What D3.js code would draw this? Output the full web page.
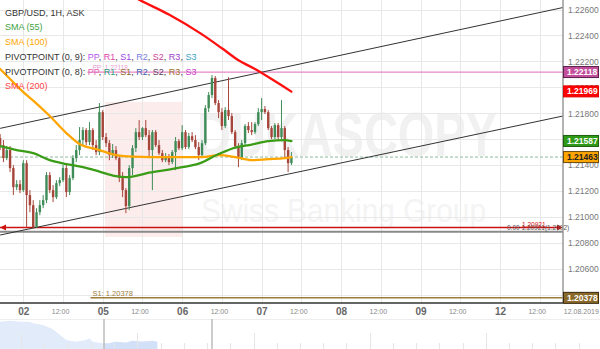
<!DOCTYPE html>
<html><head><meta charset="utf-8">
<script src="https://cdn.jsdelivr.net/npm/d3@7"></script>
<style>html,body{margin:0;padding:0;background:#fff;overflow:hidden}svg{display:block;font-family:"Liberation Sans",Arial,sans-serif}</style>
</head><body><svg id="c" width="600" height="349"></svg>
<script>
// ---------- DATA ----------
const barStart = -7; // first hourly bar, relative to 02 00:00
const open  = [1.21609,1.21555,1.21455,1.21517,1.21378,1.21231,1.21254,1.21208,1.21416,1.21170,1.21092,1.20923,1.21038,1.21092,1.21131,1.21324,1.21208,1.21154,1.21262,1.21285,1.21378,1.21193,1.21301,1.21455,1.21517,1.21594,1.21671,1.21578,1.21671,1.21555,1.21501,1.21809,1.21617,1.21570,1.21478,1.21517,1.21455,1.21301,1.21208,1.21085,1.21378,1.21532,1.21655,1.21617,1.21686,1.21632,1.21517,1.21655,1.21555,1.21493,1.21439,1.21470,1.21424,1.21501,1.21586,1.21532,1.21655,1.21540,1.21624,1.21594,1.21540,1.21478,1.21570,1.21840,1.21941,1.22072,1.21879,1.21809,1.21702,1.21825,1.21779,1.21655,1.21547,1.21455,1.21570,1.21702,1.21671,1.21655,1.21717,1.21809,1.21833,1.21809,1.21686,1.21617,1.21709,1.21617,1.21686,1.21517,1.21416];
const high  = [1.21640,1.21594,1.21547,1.21547,1.21401,1.21285,1.21285,1.21439,1.21439,1.21208,1.21131,1.21069,1.21131,1.21170,1.21347,1.21347,1.21247,1.21285,1.21308,1.21401,1.21401,1.21324,1.21478,1.21555,1.21694,1.21694,1.21686,1.21732,1.21686,1.21594,1.21879,1.21825,1.21648,1.21594,1.21563,1.21547,1.21478,1.21347,1.21224,1.21401,1.21555,1.21686,1.21748,1.21694,1.21748,1.21671,1.21671,1.21671,1.21594,1.21517,1.21493,1.21486,1.21517,1.21617,1.21601,1.21709,1.21671,1.21648,1.21655,1.21632,1.21578,1.21594,1.21863,1.21964,1.22095,1.22087,1.21902,1.21840,1.21848,1.22079,1.21802,1.21671,1.21570,1.21594,1.21717,1.21732,1.21732,1.21732,1.21840,1.21917,1.21856,1.21825,1.21702,1.21725,1.21725,1.21902,1.21702,1.21540,1.21501];
const low   = [1.21517,1.21424,1.21439,1.21347,1.21170,1.21208,1.21185,1.21193,1.20923,1.21038,1.20915,1.20915,1.21015,1.21069,1.21108,1.21185,1.21116,1.21139,1.21239,1.21270,1.21154,1.21170,1.21285,1.21424,1.21478,1.21555,1.21555,1.21555,1.21517,1.21478,1.21478,1.21594,1.21540,1.21439,1.21455,1.21439,1.21270,1.21154,1.21031,1.21054,1.21324,1.21501,1.21594,1.21594,1.21617,1.21463,1.21208,1.21540,1.21478,1.21424,1.21424,1.21401,1.21409,1.21362,1.21517,1.21517,1.21524,1.21524,1.21578,1.21524,1.21439,1.21455,1.21555,1.21809,1.21917,1.21863,1.21763,1.21671,1.21686,1.21748,1.21640,1.21532,1.21385,1.21439,1.21555,1.21648,1.21632,1.21640,1.21702,1.21748,1.21794,1.21671,1.21601,1.21601,1.21594,1.21601,1.21455,1.21347,1.21401];
const close = [1.21555,1.21455,1.21517,1.21378,1.21231,1.21254,1.21208,1.21416,1.21170,1.21092,1.20923,1.21038,1.21092,1.21131,1.21324,1.21208,1.21154,1.21262,1.21285,1.21378,1.21193,1.21301,1.21455,1.21517,1.21594,1.21671,1.21578,1.21671,1.21555,1.21501,1.21809,1.21617,1.21570,1.21478,1.21517,1.21455,1.21301,1.21208,1.21085,1.21378,1.21532,1.21655,1.21617,1.21686,1.21632,1.21517,1.21655,1.21555,1.21493,1.21439,1.21470,1.21424,1.21501,1.21586,1.21532,1.21655,1.21540,1.21624,1.21594,1.21540,1.21478,1.21570,1.21840,1.21941,1.22072,1.21879,1.21809,1.21702,1.21825,1.21779,1.21655,1.21547,1.21455,1.21570,1.21702,1.21671,1.21655,1.21717,1.21809,1.21833,1.21809,1.21686,1.21617,1.21709,1.21617,1.21686,1.21517,1.21416,1.21463];

const sma55Bars  = [-7,-2,3,8,13,18,23,28,31,35,38,44,48,53,59,64,69,74,79,81];
const sma55      = [1.21547,1.21517,1.21493,1.21439,1.21409,1.21385,1.21351,1.21316,1.21308,1.21324,1.21343,1.21366,1.21385,1.21412,1.21486,1.21536,1.21559,1.21586,1.21594,1.21586];
const sma100Bars = [-7,-4,0,3,8,13,17,23,28,33,44,54,59,64,69,74,79,81];
const sma100     = [1.22141,1.22064,1.21964,1.21898,1.21779,1.21648,1.21563,1.21517,1.21478,1.21467,1.21463,1.21463,1.21478,1.21463,1.21439,1.21447,1.21455,1.21463];
const sma200Bars = [33,35,44,54,60,65,70,75,81];
const sma200     = [1.22704,1.22676,1.22561,1.22408,1.22301,1.22209,1.22141,1.22064,1.21967];

const channelBars  = [-7, 163];
const channelUpper = [1.21684, 1.22615];
const channelLower = [1.20862, 1.21779];

const pivotStartBar = 20;
const pivotPP = 1.22118, pivotS1 = 1.20378;
const redLevel = 1.20921, grayLevel = 1.20888, lastPrice = 1.21463;
const axisMarkers = [1.22118, 1.21969, 1.21587, 1.21463, 1.20378];

const priceTicks = [1.226,1.224,1.222,1.220,1.218,1.216,1.214,1.212,1.210,1.208,1.206,1.204];
const timeTickBars   = [0,12,24,36,48,60,72,84,96,108,120,132,144,156];
const timeTickLabels = ["02","12:00","05","12:00","06","12:00","07","12:00","08","12:00","09","12:00","12","12:00"];
const dateLabelBar = 168, dateLabel = "12.08.2019";

const navBars  = [0,3,6,9,10,13,16,20,23,26,27,28,31,33,35,38,40,43,46,47.5];
const navVals  = [1.2273,1.2283,1.2273,1.2273,1.2257,1.2240,1.2197,1.2090,1.2073,1.2090,1.2107,1.2073,1.2057,1.2057,1.2073,1.2063,1.2083,1.2073,1.2083,1.2073];

// ---------- LAYOUT ----------
const W = 600, H = 349, plotR = 563, plotB = 303;
const svg = d3.select('#c');
const x = d3.scaleLinear().domain([0,144]).range([23.3, 23.3+144*3.31]);
const y = d3.scaleLinear().domain([1.204,1.226]).range([295,9.5]);

svg.append('rect').attr('width',W).attr('height',H).attr('fill','#fff');
svg.append('defs').append('clipPath').attr('id','plot').append('rect').attr('x',0).attr('y',0).attr('width',plotR).attr('height',plotB);

// watermark
const wm = svg.append('g');
wm.append('rect').attr('x',105).attr('y',102).attr('width',78).attr('height',135).attr('fill','#fcecec');
wm.append('text').attr('x',197).attr('y',156).attr('font-size',50).attr('font-weight','bold')
  .attr('transform','translate(0,156) scale(1,1.25) translate(0,-156)')
  .attr('textLength',300).attr('lengthAdjust','spacingAndGlyphs').attr('fill','#f1f1f1').text('DUKASCOPY');
wm.append('text').attr('x',201).attr('y',222).attr('font-size',30)
  .attr('transform','translate(0,222) scale(1,1.1) translate(0,-222)')
  .attr('textLength',285).attr('lengthAdjust','spacingAndGlyphs').attr('fill','#f4f4f4').text('Swiss Banking Group');

// grid
const grid = svg.append('g').attr('stroke','#e8e8e8').attr('stroke-width',1);
grid.selectAll('line.h').data(priceTicks).join('line')
  .attr('x1',0).attr('x2',plotR).attr('y1',d=>Math.round(y(d))+0.5).attr('y2',d=>Math.round(y(d))+0.5);
grid.selectAll('line.v').data(timeTickBars).join('line')
  .attr('y1',0).attr('y2',plotB).attr('x1',d=>Math.round(x(d))+0.5).attr('x2',d=>Math.round(x(d))+0.5);

const P = svg.append('g').attr('clip-path','url(#plot)');

// current price dashed
P.append('line').attr('x1',0).attr('x2',plotR).attr('y1',y(lastPrice)).attr('y2',y(lastPrice))
  .attr('stroke','#8dbb9d').attr('stroke-dasharray','3,2');

// pivot lines
P.append('line').attr('x1',x(pivotStartBar)-2).attr('x2',plotR).attr('y1',y(pivotPP)).attr('y2',y(pivotPP)).attr('stroke','#e486c6').attr('stroke-width',1.2);
P.append('line').attr('x1',x(pivotStartBar)+1).attr('x2',plotR).attr('y1',y(pivotS1)).attr('y2',y(pivotS1)).attr('stroke','#9c7d3c').attr('stroke-width',1.5);
svg.append('text').attr('x',x(pivotStartBar)+3).attr('y',y(pivotS1)-2).attr('font-size',7.5).attr('fill','#9c7d3c').text('S1: 1.20378');
svg.append('text').attr('x',x(pivotStartBar)+3).attr('y',y(pivotPP)-2.5).attr('font-size',6.5).attr('fill','#e486c6').attr('opacity',0.8).text('PP: 1.22118');

// gray + red levels
P.append('line').attr('x1',0).attr('x2',plotR).attr('y1',y(grayLevel)).attr('y2',y(grayLevel)).attr('stroke','#8a8a8a').attr('stroke-width',2);
P.append('line').attr('x1',0).attr('x2',plotR-4).attr('y1',y(redLevel)).attr('y2',y(redLevel)).attr('stroke','#cc1111').attr('stroke-width',1.5);
const ry = y(redLevel);
svg.append('path').attr('d',`M0,${ry} L6,${ry-3} L6,${ry+3}Z`).attr('fill','#cc1111');
svg.append('path').attr('d',`M${plotR},${ry} L${plotR-6},${ry-3} L${plotR-6},${ry+3}Z`).attr('fill','#cc1111');
svg.append('text').attr('x',507).attr('y',ry+2.5).attr('font-size',6.5).attr('fill','#555').text('0.00 1.20921(1.2092)');
svg.append('text').attr('x',522).attr('y',ry).attr('font-size',6.5).attr('fill','#d01010').text('1.20921');

// channel
const chLine = d3.line().x(d=>x(d[0])).y(d=>y(d[1]));
P.append('path').attr('d',chLine(channelBars.map((b,i)=>[b,channelUpper[i]]))).attr('stroke','#333').attr('fill','none').attr('stroke-width',1);
P.append('path').attr('d',chLine(channelBars.map((b,i)=>[b,channelLower[i]]))).attr('stroke','#333').attr('fill','none').attr('stroke-width',1);

// candles
const up = '#3f8c58', dn = '#a6463b';
const bars = open.map((o,i)=>({i:barStart+i,o,h:high[i],l:low[i],c:close[i]}));
P.selectAll('line.wick').data(bars).join('line').attr('class','wick')
  .attr('x1',d=>x(d.i)).attr('x2',d=>x(d.i)).attr('y1',d=>y(d.h)).attr('y2',d=>y(d.l))
  .attr('stroke',d=>d.c>=d.o?up:dn).attr('stroke-width',1);
P.selectAll('rect.body').data(bars).join('rect').attr('class','body')
  .attr('x',d=>x(d.i)-1.2).attr('width',2.4)
  .attr('y',d=>y(Math.max(d.o,d.c))).attr('height',d=>Math.max(1,Math.abs(y(d.o)-y(d.c))))
  .attr('fill',d=>d.c>=d.o?up:dn);

// SMAs
const sl = d3.line().x(d=>x(d[0])).y(d=>y(d[1])).curve(d3.curveMonotoneX);
const drawSma = (b,v,col)=>P.append('path').attr('d',sl(b.map((bb,i)=>[bb,v[i]]))).attr('fill','none').attr('stroke',col).attr('stroke-width',2.3).attr('stroke-linecap','round');
drawSma(sma100Bars,sma100,'#ffa500');
drawSma(sma55Bars,sma55,'#3a9c17');
drawSma(sma200Bars,sma200,'#ff1010');

// borders
svg.append('line').attr('x1',plotR).attr('x2',plotR).attr('y1',0).attr('y2',plotB).attr('stroke','#9a9a9a').attr('stroke-width',1.5);
svg.append('line').attr('x1',0).attr('x2',plotR).attr('y1',plotB).attr('y2',plotB).attr('stroke','#333').attr('stroke-width',1.5);

// price axis
const ya = svg.append('g').attr('transform',`translate(${plotR+2},0)`)
  .call(d3.axisRight(y).tickValues(priceTicks).tickFormat(d3.format('.5f')).tickSize(0).tickPadding(3));
ya.select('.domain').remove();
ya.selectAll('text').attr('font-size',8.5).attr('fill','#777').attr('font-family','"Liberation Sans",Arial,sans-serif');

// marker boxes
const boxFill = ['#c24e9c','#ff0000','#2f9a18','#ffa500','#8a6a2a'];
const boxStroke = ['#5a2048','#e00000','#1e5e10','#6a4a10','#3a2a10'];
const boxText = ['#fff','#fff','#fff','#222','#fff'];
const mk = svg.append('g');
axisMarkers.forEach((v,i)=>{
  const yy = y(v);
  mk.append('rect').attr('x',plotR+0.5).attr('y',yy-5.5).attr('width',35).attr('height',11)
    .attr('fill',boxFill[i]).attr('stroke',boxStroke[i]).attr('stroke-width',1);
  mk.append('text').attr('x',plotR+4).attr('y',yy+3).attr('font-size',8.5).attr('font-weight','bold').attr('fill',boxText[i]).text(d3.format('.5f')(v));
});

// time axis
const xa = svg.append('g').attr('transform',`translate(0,${plotB})`)
  .call(d3.axisBottom(x).tickValues(timeTickBars).tickFormat((d,i)=>timeTickLabels[i]).tickSize(0).tickPadding(0));
xa.select('.domain').remove();
xa.selectAll('text').each(function(d,i){
  const t = d3.select(this); const isDay = timeTickLabels[i] !== '12:00';
  t.attr('font-family','"Liberation Sans",Arial,sans-serif')
   .attr('font-size',isDay?10:7).attr('font-weight',isDay?'bold':'normal')
   .attr('fill',isDay?'#666':'#888').attr('dx',isDay?0:-3)
   .attr('y',isDay?12:11).attr('dy',0);
});
svg.append('text').attr('x',x(dateLabelBar)+2).attr('y',313.5).attr('text-anchor','middle').attr('font-size',7).attr('fill','#888').text(dateLabel);

// navigator
const nx = d3.scaleLinear().domain([0,170]).range([0,563]);
const ny = d3.scaleLinear().domain([1.20,1.23]).range([349,319]);
const nav = svg.append('g');
nav.append('line').attr('x1',0).attr('x2',W).attr('y1',319.5).attr('y2',319.5).attr('stroke','#eeeeee');
const area = d3.area().x((d,i)=>nx(navBars[i])).y0(349).y1(d=>ny(d));
nav.append('path').attr('d',area(navVals)).attr('fill','#e2ebfa');
nav.append('clipPath').attr('id','sel').append('rect').attr('x',104).attr('y',300).attr('width',108).attr('height',60);
nav.append('path').attr('d',area(navVals)).attr('fill','#d3e1f8').attr('clip-path','url(#sel)');
d3.range(0,26).forEach(k=>{
  const xx = Math.round(21.2+23.23*k)+0.5;
  nav.append('line').attr('x1',xx).attr('x2',xx).attr('y1',(k%5===0)?333:343).attr('y2',349).attr('stroke','#e6e6e6');
});
[104,212].forEach(xx=>nav.append('line').attr('x1',xx).attr('x2',xx).attr('y1',319).attr('y2',349).attr('stroke','#bdbdbd').attr('stroke-width',1.5));

// legend
const lg = svg.append('g').attr('font-size',9);
lg.append('text').attr('x',5).attr('y',15.5).attr('fill','#333').text('GBP/USD, 1H, ASK');
lg.append('text').attr('x',5).attr('y',30).attr('fill','#3fa33f').text('SMA (55)');
lg.append('text').attr('x',5).attr('y',45).attr('fill','#ffa500').text('SMA (100)');
const pivNames = ['PP','R1','S1','R2','S2','R3','S3'];
const piv9 = ['#bb55ee','#dd3fae','#9a46e0','#7b7ee0','#c8449a','#a040c8','#3aa0c4'];
const piv8 = ['#e064b4','#1fa27e','#8c6c2c','#3c5cb4','#5e3e5e','#a0702c','#cc3ccc'];
[[60,'PIVOTPOINT (0, 9): ',piv9],[74.5,'PIVOTPOINT (0, 8): ',piv8]].forEach(([yy,lab,cols])=>{
  const t = lg.append('text').attr('x',5).attr('y',yy).attr('fill','#333');
  t.append('tspan').text(lab);
  pivNames.forEach((n,i)=>{
    t.append('tspan').attr('fill',cols[i]).text(n);
    if(i<pivNames.length-1) t.append('tspan').attr('fill','#333').text(', ');
  });
});
lg.append('text').attr('x',5).attr('y',89).attr('fill','#ff4444').text('SMA (200)');
</script></body></html>
